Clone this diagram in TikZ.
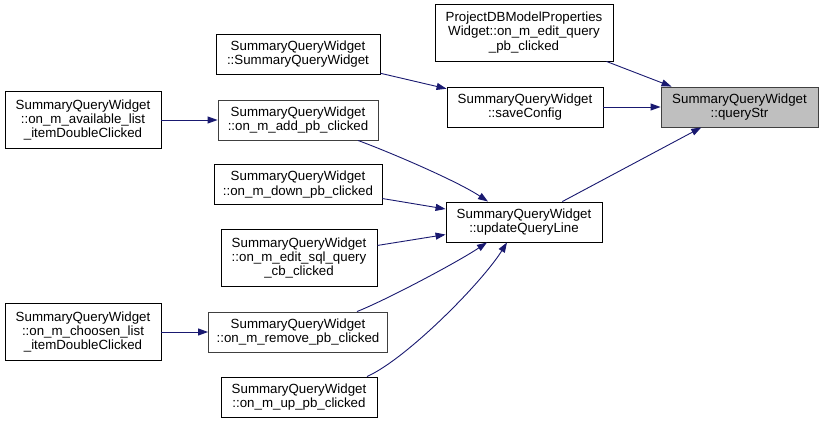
\documentclass[tikz,border=0pt]{standalone}
\usepackage{fontspec}
\setmainfont{Liberation Sans}
\usetikzlibrary{arrows.meta}

\definecolor{edgeblue}{HTML}{191970}
\definecolor{boxgray}{HTML}{BFBFBF}
\definecolor{rimgray}{HTML}{404040}

\begin{document}
\begin{tikzpicture}[
    x=1pt, y=-1pt,
    func/.style={rectangle, draw=black, fill=white, line width=0.9pt, inner sep=0pt, minimum height=40pt, align=center, font=\fontsize{13.3}{14.3}\selectfont},
    tall/.style={minimum height=57pt},
    hub/.style={draw=rimgray},
    target/.style={hub, fill=boxgray},
    call/.style={-{Triangle[length=10pt, width=7pt]}, draw=edgeblue, line width=0.9pt}
]
    \useasboundingbox (0,0) rectangle (823,423);

    % callee
    \node (query) [func, target, minimum width=157pt] at (739.5,107) {SummaryQueryWidget\\::queryStr};

    % direct callers
    \node (proj) [func, tall, minimum width=178pt] at (524,32.5) {ProjectDBModelProperties\\Widget::on\_m\_edit\_query\\\_pb\_clicked};
    \node (save) [func, minimum width=156pt] at (525,107) {SummaryQueryWidget\\::saveConfig};
    \node (update) [func, minimum width=156pt] at (524,222) {SummaryQueryWidget\\::updateQueryLine};

    % second level
    \node (ctor) [func, minimum width=164pt] at (298,54) {SummaryQueryWidget\\::SummaryQueryWidget};
    \node (add) [func, hub, minimum width=160pt] at (298,120) {SummaryQueryWidget\\::on\_m\_add\_pb\_clicked};
    \node (down) [func, minimum width=168pt] at (298,184.5) {SummaryQueryWidget\\::on\_m\_down\_pb\_clicked};
    \node (editsql) [func, tall, minimum width=156pt] at (299,258) {SummaryQueryWidget\\::on\_m\_edit\_sql\_query\\\_cb\_clicked};
    \node (remove) [func, hub, minimum width=179pt] at (298,332) {SummaryQueryWidget\\::on\_m\_remove\_pb\_clicked};
    \node (up) [func, minimum width=156pt] at (299,397) {SummaryQueryWidget\\::on\_m\_up\_pb\_clicked};

    % third level
    \node (avail) [func, tall, minimum width=156pt] at (83,120) {SummaryQueryWidget\\::on\_m\_available\_list\\\_itemDoubleClicked};
    \node (choosen) [func, tall, minimum width=156pt] at (83,332) {SummaryQueryWidget\\::on\_m\_choosen\_list\\\_itemDoubleClicked};

    % calls
    \draw [call] ([xshift=-7pt]proj.south east) -- ([xshift=11pt]query.north west);
    \draw [call] (save) -- (query);
    \draw [call] (update) -- (query);
    \draw [call] (ctor) -- (save);
    \draw [call] (avail) -- (add);
    \draw [call] ([xshift=60pt]add.south) .. controls +(35,13) and +(-30,-20) .. ([xshift=-36pt]update.north);
    \draw [call] (down) -- (update);
    \draw [call] (editsql) -- (update);
    \draw [call] ([xshift=59pt]remove.north) .. controls +(30,-12) and +(-30,20) .. ([xshift=-37pt]update.south);
    \draw [call] ([xshift=68pt]up.north) .. controls +(40,-18) and +(-25,40) .. ([xshift=-17pt]update.south);
    \draw [call] (choosen) -- (remove);
\end{tikzpicture}
\end{document}
